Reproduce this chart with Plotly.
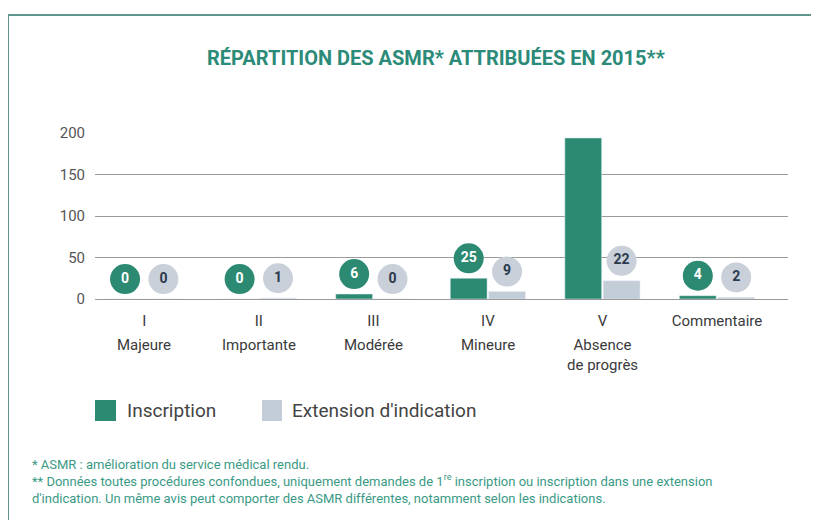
import plotly.graph_objects as go

# data
categories = ["I", "II", "III", "IV", "V", "Commentaire"]
descriptions = ["Majeure", "Importante", "Modérée", "Mineure",
                "Absence<br>de progrès", ""]
inscription = [0, 0, 6, 25, 194, 4]
extension = [0, 1, 0, 9, 22, 2]
series_names = ["Inscription", "Extension d'indication"]
y_ticks = [0, 50, 100, 150, 200]

TEAL = "#2c8a73"
GREY = "#c3cdd8"
BADGE_GREY = "#c9d0d9"
FRAME = "#5f968d"
FONT = "Roboto"

W, H = 819, 520
OFF = 8  # page body margin: reference pixel = figure pixel + 8
L, R, T, B = 87, 39, 125, 229  # plot area margins (figure px)
badge_lift = 24  # badge centre sits above the bar top (data units)


def px(x, y):
    """reference pixel -> paper coords"""
    pw, ph = W - L - R, H - T - B
    return (x - OFF - L) / pw, (H - B - (y - OFF)) / ph


fig = go.Figure()

fig.add_trace(go.Bar(x=categories, y=inscription, name=series_names[0],
                     marker_color=TEAL, offsetgroup="a", showlegend=False))
fig.add_trace(go.Bar(x=categories, y=extension, name=series_names[1],
                     marker_color=GREY, offsetgroup="b", showlegend=False))

# round value badges
fig.add_trace(go.Scatter(
    x=categories, y=[v + badge_lift for v in inscription], mode="markers+text",
    text=["<b>%d</b>" % v for v in inscription], textposition="middle center",
    marker=dict(size=30, color=TEAL), offsetgroup="a",
    textfont=dict(family=FONT, size=14, color="white"),
    showlegend=False, cliponaxis=False, hoverinfo="skip"))
fig.add_trace(go.Scatter(
    x=categories, y=[v + badge_lift for v in extension], mode="markers+text",
    text=["<b>%d</b>" % v for v in extension], textposition="middle center",
    marker=dict(size=30, color=BADGE_GREY), offsetgroup="b",
    textfont=dict(family=FONT, size=14, color="#2b3a4c"),
    showlegend=False, cliponaxis=False, hoverinfo="skip"))

# frame (top and left edges)
x0, y0 = px(OFF, 15)
x1, _ = px(W + OFF, 0)
_, y1 = px(0, H + OFF)
fig.add_shape(type="line", xref="paper", yref="paper", x0=x0, y0=y0, x1=x1, y1=y0,
              line=dict(color=FRAME, width=2))
fig.add_shape(type="line", xref="paper", yref="paper", x0=x0, y0=y0, x1=x0, y1=y1,
              line=dict(color=FRAME, width=2))

tx, ty = px(436, 58)
fig.add_annotation(xref="paper", yref="paper", x=tx, y=ty, yanchor="middle",
                   showarrow=False,
                   text="<b>RÉPARTITION DES ASMR* ATTRIBUÉES EN 2015**</b>",
                   font=dict(family=FONT, size=20, color="#2c8a78"))

# second / third lines of the category labels
_, dy = px(0, 334)
for cat, desc in zip(categories, descriptions):
    if desc:
        fig.add_annotation(x=cat, xref="x", y=dy, yref="paper", yanchor="top",
                           text=desc, showarrow=False,
                           font=dict(family=FONT, size=15, color="#3a3a3a"))

# legend
legend_x = [(95, 116, 125), (262, 282, 290)]
for (sx0, sx1, txx), name, col in zip(legend_x, series_names, [TEAL, GREY]):
    a0, b0 = px(sx0, 400)
    a1, b1 = px(sx1, 421)
    fig.add_shape(type="rect", xref="paper", yref="paper", x0=a0, x1=a1, y0=b0, y1=b1,
                  fillcolor=col, line_width=0)
    ax, ay = px(txx, 410)
    fig.add_annotation(xref="paper", yref="paper", x=ax, y=ay, xanchor="left",
                       yanchor="middle", showarrow=False, text=name,
                       font=dict(family=FONT, size=19, color="#444444"))

fx, fy = px(30, 455)
fig.add_annotation(
    xref="paper", yref="paper", x=fx, y=fy, xanchor="left", yanchor="top",
    showarrow=False, align="left",
    text=("* ASMR : amélioration du service médical rendu.<br>"
          "** Données toutes procédures confondues, uniquement demandes de 1<sup>re</sup> "
          "inscription ou inscription dans une extension<br>"
          "d'indication. Un même avis peut comporter des ASMR différentes, "
          "notamment selon les indications."),
    font=dict(family=FONT, size=13, color="#3a9a86"))

fig.update_layout(
    width=W, height=H,
    margin=dict(l=L, r=R, t=T, b=B),
    paper_bgcolor="white", plot_bgcolor="white",
    barmode="group", bargap=0.33, bargroupgap=0.04,
    scattermode="group", scattergap=0.33,
    font=dict(family=FONT, color="#333333"),
    showlegend=False,
    xaxis=dict(range=[-0.43, 5.62], showgrid=False, ticks="", showline=False,
               ticklabelstandoff=11,
               tickfont=dict(family=FONT, size=15, color="#3a3a3a")),
    yaxis=dict(range=[0, 200], tickvals=y_ticks, showgrid=True, gridcolor="#9a9a9a",
               gridwidth=1, zeroline=True, zerolinecolor="#9a9a9a", zerolinewidth=1,
               ticks="", ticklabelstandoff=9,
               tickfont=dict(family=FONT, size=15, color="#555555")),
)

fig.write_html("out.html")
